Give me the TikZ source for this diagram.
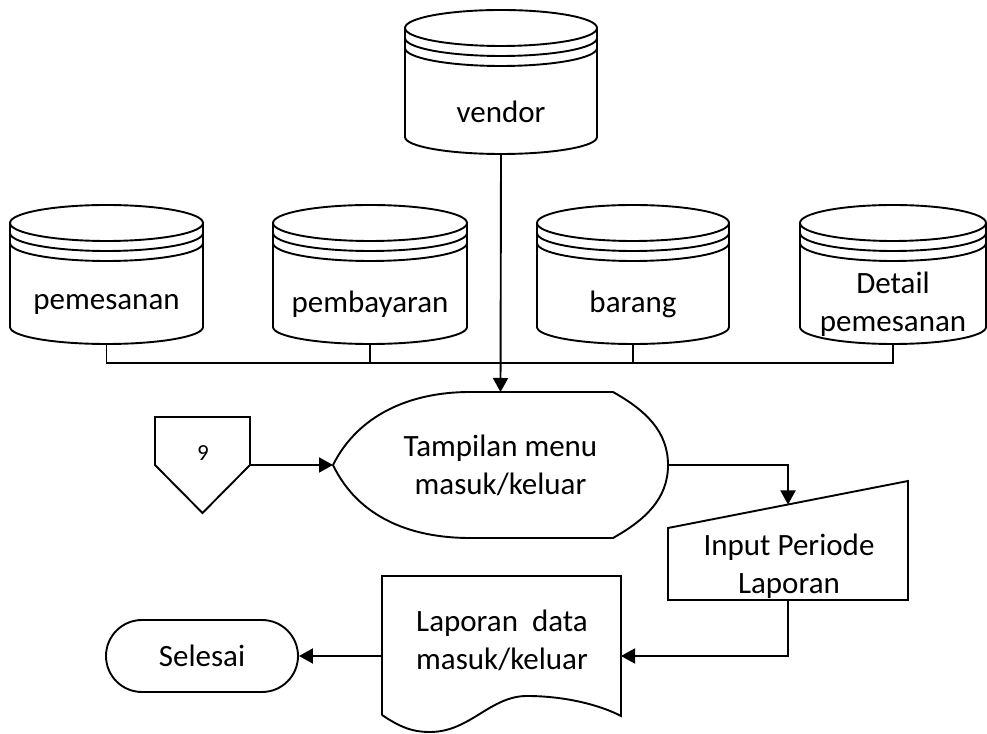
\documentclass[tikz,border=0pt]{standalone}
\usepackage{fontspec}
\setmainfont{Carlito}
\usetikzlibrary{calc}
\usetikzlibrary{arrows.meta}

\tikzset{
  flow/.style={line width=1.9pt, line join=miter},
  arr/.style={flow, -{Triangle[length=14pt,width=15pt]}},
  lbl/.style={font=\fontsize{31}{38}\selectfont, align=center, inner sep=0pt},
  box/.style={inner sep=0pt, outer sep=0pt},
}

% data store: name, left, right, top, bottom, text
\newcommand{\dbstore}[6]{%
  \node[box, minimum width={#3pt-#2pt}, minimum height={#4pt-#5pt}] (#1) at ({(#2+#3)/2},{(#4+#5)/2}) {};
  \draw[flow] ([yshift=-18pt]#1.north west) -- ([yshift=17pt]#1.south west)
    arc[start angle=180,end angle=360,x radius={(#3-#2)/2},y radius=17]
    -- ([yshift=-18pt]#1.north east)
    arc[start angle=0,end angle=180,x radius={(#3-#2)/2},y radius=18];
  \foreach \k in {18,28,38}
    \draw[flow] ([yshift=-\k pt]#1.north west) arc[start angle=180,end angle=360,x radius={(#3-#2)/2},y radius=18];
  \node[lbl] (#1-txt) at ([yshift=-30pt]#1.center) {#6};
}

\begin{document}
\begin{tikzpicture}[x=1pt,y=1pt]
\useasboundingbox (0,0) rectangle (987,733);

\dbstore{vendor}{405}{597}{723}{579}{vendor}
\dbstore{pemesanan}{10}{203}{528}{389}{pemesanan}
\dbstore{pembayaran}{273}{467}{528}{389}{pembayaran}
\dbstore{barang}{537}{729}{528}{389}{barang}
\dbstore{detail}{800}{986}{528}{389}{Detail\\pemesanan}

% display
\node[lbl, box, minimum width=335pt, minimum height=146pt] (menu) at (500.5,268) {Tampilan menu\\masuk/keluar};
\draw[flow] (menu.west) .. controls (358,318) and (410,341) .. (470,341) -- (613,341)
  .. controls (645,323) and (668,302) .. (menu.east)
  .. controls (668,234) and (645,213) .. (613,195) -- (470,195)
  .. controls (410,195) and (358,216) .. cycle;

% off page connector
\node[box, minimum width=95pt, minimum height=96pt] (off9) at (202.5,268) {};
\draw[flow] (off9.north west) -- (off9.north east) -- (off9.east) -- (off9.south) -- (off9.west) -- cycle;
\node[font=\fontsize{23}{27}\selectfont, inner sep=0pt] (off9-txt) at (203,280) {9};

% manual input
\node[box, minimum width=240pt, minimum height=119pt] (periode) at (788,192.5) {};
\draw[flow] (periode.south west) -- (668,205) -- (908,252) -- (periode.south east) -- cycle;
\node[lbl] (periode-txt) at (789,167) {Input Periode\\Laporan};
\coordinate (periode-top) at (788,228.5);

% document
\node[box, minimum width=239pt, minimum height=139pt] (laporan) at (501.5,87.5) {};
\draw[flow] (382,18) -- (laporan.north west) -- (laporan.north east) -- (621,17)
  .. controls (600,28) and (565,37) .. (527,37)
  .. controls (490,37) and (470,1) .. (430,1)
  .. controls (412,1) and (400,6) .. (382,18);
\node[lbl] (laporan-txt) at (502,93) {Laporan\ \ data\\masuk/keluar};

% terminator
\node[lbl, draw, flow, minimum width=192pt, minimum height=72pt, rounded corners=36pt] (selesai) at (202,77) {Selesai};

% connectors
\coordinate (bus) at (501,370);
\draw[flow] (pemesanan.south) |- (detail.south |- bus) -- (detail.south);
\draw[flow] (pembayaran.south) -- (pembayaran.south |- bus);
\draw[flow] (barang.south) -- (barang.south |- bus);
\draw[arr] (vendor.south) -- (menu.north);
\draw[arr] (off9.east) -- (menu.west);
\draw[arr] (menu.east) -| (periode-top);
\draw[arr] (periode.south) |- (laporan.east |- selesai.east);
\draw[arr] (laporan.west |- selesai.east) -- (selesai.east);
\end{tikzpicture}
\end{document}
